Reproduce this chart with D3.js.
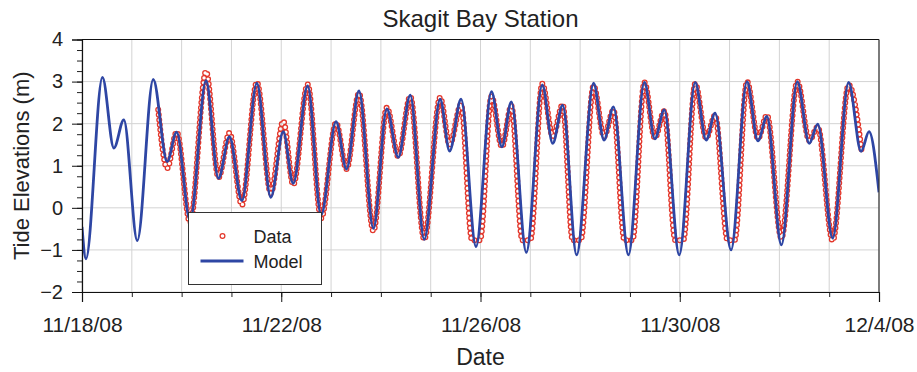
<!DOCTYPE html>
<html>
<head>
<meta charset="utf-8">
<script src="https://cdn.jsdelivr.net/npm/d3@7"></script>
<style>
  html, body { margin: 0; padding: 0; background: #fff; }
  svg { display: block; font-family: Arial, "Liberation Sans", Helvetica, sans-serif; }
</style>
</head>
<body>
<div id="chart"></div>
<script>
// time offsets are in days after 11/18/08 00:00
const startDate = "2008-11-18";
const endDate = "2008-12-04";
const xTickDates = ["2008-11-18", "2008-11-22", "2008-11-26", "2008-11-30", "2008-12-04"];
const yTicks = [-2, -1, 0, 1, 2, 3, 4];

// model: turning points of the blue curve
const modelDays = [
  0.00, 0.08, 0.41, 0.64, 0.84, 1.11, 1.43, 1.71, 1.90, 2.17,
  2.49, 2.74, 2.96, 3.21, 3.51, 3.79, 4.04, 4.24, 4.53, 4.80,
  5.10, 5.31, 5.56, 5.85, 6.12, 6.35, 6.59, 6.87, 7.19, 7.38,
  7.61, 7.91, 8.22, 8.43, 8.62, 8.92, 9.24, 9.45, 9.65, 9.93,
  10.27, 10.48, 10.67, 10.97, 11.29, 11.50, 11.69, 11.99, 12.31, 12.53,
  12.71, 13.03, 13.35, 13.57, 13.75, 14.04, 14.36, 14.60, 14.77, 15.07,
  15.39, 15.64, 15.80, 16.00
];
const modelElev = [
  -0.45, -1.21, 3.10, 1.42, 2.09, -0.78, 3.05, 1.10, 1.80, -0.30,
  3.02, 0.70, 1.69, 0.17, 2.96, 0.25, 1.81, 0.58, 2.90, -0.17,
  2.05, 0.92, 2.78, -0.49, 2.35, 1.20, 2.68, -0.75, 2.58, 1.35,
  2.58, -0.92, 2.76, 1.45, 2.52, -1.06, 2.92, 1.53, 2.44, -1.12,
  2.96, 1.61, 2.40, -1.12, 2.98, 1.64, 2.33, -1.12, 2.98, 1.61,
  2.25, -1.00, 3.00, 1.59, 2.17, -0.88, 3.00, 1.53, 1.99, -0.72,
  2.98, 1.34, 1.81, 0.37
];

// observed data: turning points of the red record (lows clipped near -0.77)
const dataDays = [
  1.53, 1.71, 1.90, 2.17, 2.49, 2.74, 2.96, 3.21, 3.51, 3.79,
  4.04, 4.24, 4.53, 4.80, 5.10, 5.31, 5.56, 5.85, 6.12, 6.35,
  6.59, 6.87, 7.19, 7.38, 7.61, 7.83, 7.99, 8.22, 8.43, 8.62,
  8.84, 9.00, 9.24, 9.45, 9.65, 9.85, 10.01, 10.27, 10.48, 10.67,
  10.89, 11.05, 11.29, 11.50, 11.69, 11.91, 12.07, 12.31, 12.53, 12.71,
  12.96, 13.10, 13.35, 13.57, 13.75, 14.04, 14.36, 14.60, 14.77, 15.07,
  15.39, 15.66
];
const dataElev = [
  2.33, 0.94, 1.80, -0.35, 3.24, 0.72, 1.78, 0.07, 2.98, 0.35,
  2.06, 0.55, 2.93, -0.25, 2.02, 0.92, 2.72, -0.55, 2.38, 1.22,
  2.65, -0.75, 2.62, 1.50, 2.45, -0.77, -0.77, 2.65, 1.45, 2.42,
  -0.77, -0.77, 2.95, 1.70, 2.45, -0.77, -0.77, 2.90, 1.70, 2.32,
  -0.77, -0.77, 2.98, 1.66, 2.30, -0.77, -0.77, 2.95, 1.66, 2.20,
  -0.77, -0.77, 3.00, 1.65, 2.20, -0.72, 3.00, 1.60, 1.92, -0.78,
  2.92, 1.28
];

const W = 917, H = 372;
const margin = { top: 39.5, right: 38, bottom: 80, left: 82 };
const parse = d3.utcParse("%Y-%m-%d");
const t0 = parse(startDate);
const toDate = d => new Date(t0.getTime() + d * 864e5);

const x = d3.scaleUtc()
  .domain([t0, parse(endDate)])
  .range([margin.left, W - margin.right]);
const y = d3.scaleLinear()
  .domain([-2, 4])
  .range([H - margin.bottom, margin.top]);

const model = modelDays.map((d, i) => ({ t: toDate(d), v: modelElev[i] }));
const data = dataDays.map((d, i) => ({ t: toDate(d), v: dataElev[i] }));

const svg = d3.select("#chart").append("svg")
  .attr("width", W)
  .attr("height", H);

const defs = svg.append("defs");
defs.append("clipPath").attr("id", "plot-clip")
  .append("rect")
  .attr("x", margin.left).attr("y", margin.top)
  .attr("width", W - margin.left - margin.right)
  .attr("height", H - margin.top - margin.bottom);

// grid
const dayTicks = d3.utcDay.range(t0, d3.utcDay.offset(parse(endDate), 1));
svg.append("g")
  .selectAll("line")
  .data(dayTicks)
  .join("line")
  .attr("x1", d => x(d)).attr("x2", d => x(d))
  .attr("y1", margin.top).attr("y2", H - margin.bottom)
  .attr("stroke", "#d3d3d3").attr("stroke-width", 1);
svg.append("g")
  .selectAll("line")
  .data(yTicks)
  .join("line")
  .attr("x1", margin.left).attr("x2", W - margin.right)
  .attr("y1", d => y(d)).attr("y2", d => y(d))
  .attr("stroke", "#d3d3d3").attr("stroke-width", 1);

const line = d3.line()
  .x(d => x(d.t))
  .y(d => y(d.v))
  .curve(d3.curveMonotoneX);

// data: hollow red rings along the observed record
const dataPath = line(data);
const ringGap = "0 5";
const mask = defs.append("mask").attr("id", "ring-mask")
  .attr("maskUnits", "userSpaceOnUse")
  .attr("x", 0).attr("y", 0).attr("width", W).attr("height", H);
mask.append("rect").attr("width", W).attr("height", H).attr("fill", "white");
mask.append("path")
  .attr("d", dataPath)
  .attr("fill", "none")
  .attr("stroke", "black")
  .attr("stroke-width", 3.4)
  .attr("stroke-linecap", "round")
  .attr("stroke-dasharray", ringGap);

const plot = svg.append("g").attr("clip-path", "url(#plot-clip)");
plot.append("path")
  .attr("d", dataPath)
  .attr("fill", "none")
  .attr("stroke", "#e3362a")
  .attr("stroke-width", 6)
  .attr("stroke-linecap", "round")
  .attr("stroke-dasharray", ringGap)
  .attr("mask", "url(#ring-mask)");

plot.append("path")
  .datum(model)
  .attr("fill", "none")
  .attr("stroke", "#2e46a4")
  .attr("stroke-width", 2.8)
  .attr("stroke-linejoin", "round")
  .attr("d", line);

// frame (top and right)
svg.append("line")
  .attr("x1", margin.left).attr("x2", W - margin.right)
  .attr("y1", margin.top).attr("y2", margin.top)
  .attr("stroke", "#111").attr("stroke-width", 1.2);
svg.append("line")
  .attr("x1", W - margin.right).attr("x2", W - margin.right)
  .attr("y1", margin.top).attr("y2", H - margin.bottom)
  .attr("stroke", "#333").attr("stroke-width", 1.2);

// x axis
const xMinor = d3.axisBottom(x).tickValues(dayTicks).tickSize(5).tickFormat("");
svg.append("g")
  .attr("transform", `translate(0,${H - margin.bottom})`)
  .call(xMinor)
  .call(g => g.select(".domain").remove())
  .call(g => g.selectAll("line").attr("stroke", "#222"));

const xAxis = d3.axisBottom(x)
  .tickValues(xTickDates.map(parse))
  .tickSize(10)
  .tickPadding(15)
  .tickFormat(d3.utcFormat("%-m/%-d/%y"));
svg.append("g")
  .attr("transform", `translate(0,${H - margin.bottom})`)
  .call(xAxis)
  .call(g => g.select(".domain").attr("stroke", "#111").attr("stroke-width", 1.2))
  .call(g => g.selectAll("line").attr("stroke", "#111"))
  .call(g => g.selectAll("text")
    .attr("font-size", 21)
    .attr("fill", "#222")
    .attr("font-family", "Arial, 'Liberation Sans', sans-serif"));

// y axis
const yMinor = d3.axisLeft(y).tickValues(d3.range(-2, 4.01, 0.25)).tickSize(5).tickFormat("");
svg.append("g")
  .attr("transform", `translate(${margin.left},0)`)
  .call(yMinor)
  .call(g => g.select(".domain").remove())
  .call(g => g.selectAll("line").attr("stroke", "#222"));

const yAxis = d3.axisLeft(y)
  .tickValues(yTicks)
  .tickSize(10)
  .tickPadding(9)
  .tickFormat(d3.format("d"));
svg.append("g")
  .attr("transform", `translate(${margin.left},0)`)
  .call(yAxis)
  .call(g => g.select(".domain").attr("stroke", "#111").attr("stroke-width", 1.2))
  .call(g => g.selectAll("line").attr("stroke", "#111"))
  .call(g => g.selectAll("text")
    .attr("font-size", 20)
    .attr("fill", "#222")
    .attr("font-family", "Arial, 'Liberation Sans', sans-serif"));

// titles
svg.append("text")
  .attr("x", (margin.left + W - margin.right) / 2)
  .attr("y", 27)
  .attr("text-anchor", "middle")
  .attr("font-size", 24)
  .attr("fill", "#222")
  .text("Skagit Bay Station");

svg.append("text")
  .attr("x", (margin.left + W - margin.right) / 2)
  .attr("y", 365)
  .attr("text-anchor", "middle")
  .attr("font-size", 23)
  .attr("fill", "#222")
  .text("Date");

svg.append("text")
  .attr("transform", `translate(29,${(margin.top + H - margin.bottom) / 2}) rotate(-90)`)
  .attr("text-anchor", "middle")
  .attr("font-size", 22)
  .attr("fill", "#222")
  .text("Tide Elevations (m)");

// legend
const legend = svg.append("g").attr("transform", "translate(188.5,212.5)");
legend.append("rect")
  .attr("width", 133).attr("height", 72)
  .attr("fill", "#fff")
  .attr("stroke", "#333").attr("stroke-width", 1);
legend.append("circle")
  .attr("cx", 34).attr("cy", 23.5).attr("r", 2.4)
  .attr("fill", "none").attr("stroke", "#e3362a").attr("stroke-width", 1.2);
legend.append("line")
  .attr("x1", 12).attr("x2", 55).attr("y1", 48.5).attr("y2", 48.5)
  .attr("stroke", "#2e46a4").attr("stroke-width", 2.8);
legend.append("text")
  .attr("x", 65).attr("y", 30)
  .attr("font-size", 18).attr("fill", "#222")
  .text("Data");
legend.append("text")
  .attr("x", 65).attr("y", 55.5)
  .attr("font-size", 18).attr("fill", "#222")
  .text("Model");
</script>
</body>
</html>
